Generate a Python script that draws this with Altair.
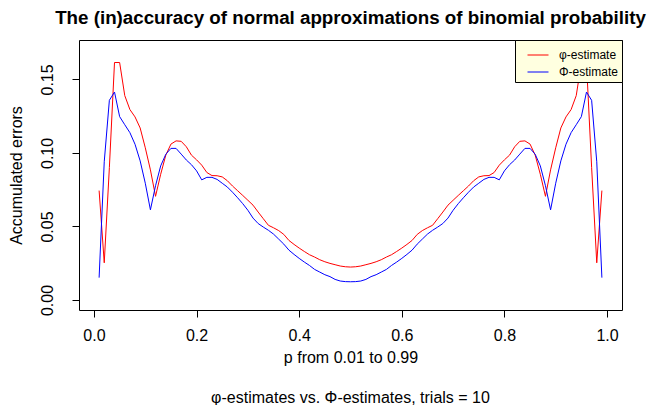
import altair as alt
import pandas as pd

# p from 0.01 to 0.99
p_values = [round(k / 100, 2) for k in range(1, 100)]

# accumulated errors, phi-estimate (red)
phi_estimate = [
    0.0744, 0.0253, 0.0900, 0.1615, 0.1615, 0.1390, 0.1295, 0.1245, 0.1170, 0.1035,
    0.0885, 0.0705, 0.0855, 0.0985, 0.1060, 0.1082, 0.1079, 0.1042, 0.0985, 0.0953,
    0.0917, 0.0867, 0.0846, 0.0845, 0.0837, 0.0811, 0.0775, 0.0743, 0.0711, 0.0678,
    0.0645, 0.0598, 0.0553, 0.0508, 0.0491, 0.0472, 0.0446, 0.0405, 0.0378, 0.0353,
    0.0330, 0.0308, 0.0292, 0.0274, 0.0260, 0.0249, 0.0240, 0.0231, 0.0226, 0.0224,
    0.0226, 0.0231, 0.0240, 0.0249, 0.0260, 0.0274, 0.0292, 0.0308, 0.0330, 0.0353,
    0.0378, 0.0405, 0.0446, 0.0472, 0.0491, 0.0508, 0.0553, 0.0598, 0.0645, 0.0678,
    0.0711, 0.0743, 0.0775, 0.0811, 0.0837, 0.0845, 0.0846, 0.0867, 0.0917, 0.0953,
    0.0985, 0.1042, 0.1079, 0.1082, 0.1060, 0.0985, 0.0855, 0.0705, 0.0885, 0.1035,
    0.1170, 0.1245, 0.1295, 0.1390, 0.1615, 0.1615, 0.0900, 0.0253, 0.0744,
]

# accumulated errors, Phi-estimate (blue)
Phi_estimate = [
    0.0152, 0.0940, 0.1358, 0.1414, 0.1247, 0.1192, 0.1138, 0.1059, 0.0946, 0.0794,
    0.0613, 0.0777, 0.0912, 0.0991, 0.1031, 0.1031, 0.0992, 0.0952, 0.0920, 0.0878,
    0.0817, 0.0834, 0.0834, 0.0820, 0.0794, 0.0768, 0.0733, 0.0695, 0.0655, 0.0610,
    0.0557, 0.0520, 0.0496, 0.0474, 0.0448, 0.0414, 0.0380, 0.0339, 0.0310, 0.0283,
    0.0258, 0.0235, 0.0208, 0.0190, 0.0172, 0.0159, 0.0140, 0.0129, 0.0125, 0.0124,
    0.0125, 0.0129, 0.0140, 0.0159, 0.0172, 0.0190, 0.0208, 0.0235, 0.0258, 0.0283,
    0.0310, 0.0339, 0.0380, 0.0414, 0.0448, 0.0474, 0.0496, 0.0520, 0.0557, 0.0610,
    0.0655, 0.0695, 0.0733, 0.0768, 0.0794, 0.0820, 0.0834, 0.0834, 0.0817, 0.0878,
    0.0920, 0.0952, 0.0992, 0.1031, 0.1031, 0.0991, 0.0912, 0.0777, 0.0613, 0.0794,
    0.0946, 0.1059, 0.1138, 0.1192, 0.1247, 0.1414, 0.1358, 0.0940, 0.0152,
]

series_names = ["φ-estimate", "Φ-estimate"]
series_colors = ["#FF0000", "#0000FF"]
x_ticks = [0.0, 0.2, 0.4, 0.6, 0.8, 1.0]
y_ticks = [0.00, 0.05, 0.10, 0.15]

rows = []
for p, a, b in zip(p_values, phi_estimate, Phi_estimate):
    rows.append({"p": p, "err": a, "series": series_names[0], "order": 0})
    rows.append({"p": p, "err": b, "series": series_names[1], "order": 1})
df = pd.DataFrame(rows)

FONT = "Liberation Sans"
W, H = 543, 270

lines = alt.Chart(df).mark_line(strokeWidth=1, clip=True).encode(
    x=alt.X("p:Q",
            scale=alt.Scale(domain=[-0.0292, 1.0292], nice=False, zero=False),
            axis=alt.Axis(values=x_ticks, format=".1f", title="p from 0.01 to 0.99",
                          labelPadding=10, titlePadding=6)),
    y=alt.Y("err:Q",
            scale=alt.Scale(domain=[-0.0068, 0.1768], nice=False, zero=False),
            axis=alt.Axis(values=y_ticks, format=".2f", title="Accumulated errors",
                          labelAngle=270, labelAlign="center", labelBaseline="bottom",
                          labelPadding=17, titlePadding=15)),
    color=alt.Color("series:N",
                    scale=alt.Scale(domain=series_names, range=series_colors),
                    legend=alt.Legend(title=None, orient="top-right", offset=0,
                                      fillColor="#FFFFE0", strokeColor="black",
                                      padding=4, symbolType="stroke", symbolSize=441,
                                      symbolOffset=8,
                                      symbolStrokeWidth=1, labelFont=FONT,
                                      labelFontSize=12, labelOffset=10, rowPadding=-8,
                                      labelColor="black")),
    detail="series:N",
    order="order:Q",
)

sub = alt.Chart(pd.DataFrame({"t": ["φ-estimates vs. Φ-estimates, trials = 10"]})).mark_text(
    font=FONT, fontSize=16, color="black", align="center", baseline="middle"
).encode(
    text="t:N",
    x=alt.value(W / 2),
    y=alt.value(H + 88),
)

chart = alt.layer(lines, sub).properties(
    width=W,
    height=H,
    title=alt.TitleParams(
        "The (in)accuracy of normal approximations of binomial probability",
        font=FONT, fontSize=18.75, fontWeight="bold", anchor="middle", offset=12,
        color="black",
    ),
    padding={"left": 71, "top": 32, "right": 30, "bottom": 95},
    autosize=alt.AutoSizeParams(type="none"),
).configure_view(
    stroke="black", strokeWidth=1
).configure_axis(
    domain=False, grid=False, ticks=True, tickColor="black", tickSize=7,
    labelFont=FONT, labelFontSize=16, labelColor="black",
    titleFont=FONT, titleFontSize=16, titleFontWeight="normal", titleColor="black",
)

chart.save("out.html", embed_options={"renderer": "svg", "actions": False})
